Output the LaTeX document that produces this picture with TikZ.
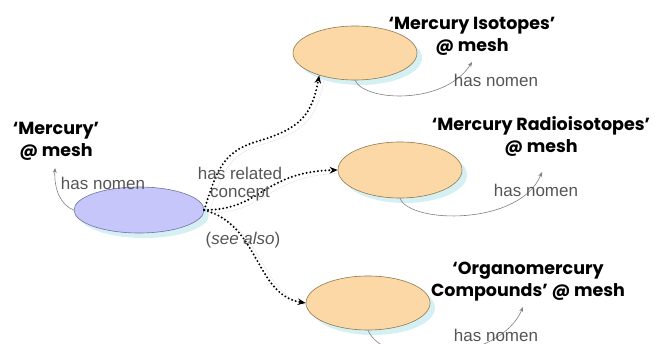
\documentclass[tikz,border=0pt]{standalone}
\usepackage{fontspec}
\setmainfont{Liberation Sans}
\newfontfamily\titlefont{Poppins}
\usetikzlibrary{shapes.geometric,arrows.meta}

\definecolor{lavender}{HTML}{C6C6FA}
\definecolor{lavenderline}{HTML}{7272A4}
\definecolor{peach}{HTML}{FCD8A6}
\definecolor{peachline}{HTML}{8E7A52}
\definecolor{shadowcyan}{HTML}{D4F0F2}
\definecolor{labelgray}{HTML}{555555}
\definecolor{ghostgray}{HTML}{E2E2E2}

\tikzset{
  concept/.style={ellipse, fill=#1, line width=0.6pt, minimum width=124pt, minimum height=54pt, inner sep=0pt,
    preaction={fill=shadowcyan, draw=none, transform canvas={shift={(5pt,-5pt)}}}},
  meshlabel/.style={font=\titlefont\bfseries\fontsize{17.5}{22}\selectfont, align=center, inner sep=0pt},
  rellabel/.style={font=\fontsize{17}{18}\selectfont, text=labelgray, align=center, inner sep=0pt},
  nomen/.style={draw=gray, line width=0.6pt, -{Stealth[length=5pt,width=4pt]}},
  seealso/.style={line width=2.2pt, dash pattern=on 0pt off 3.8pt, line cap=round,
    -{Stealth[length=8pt,width=6.5pt]},
    preaction={draw=ghostgray, -, transform canvas={shift={(5pt,-3pt)}}}}
}

\begin{document}
\begin{tikzpicture}[x=1pt,y=-1pt]
\useasboundingbox (0,0) rectangle (655,344);

% Pojecia
\node[concept=lavender, draw=lavenderline, minimum width=130pt, minimum height=46pt] (merc) at (139,210) {};
\node[concept=peach, draw=peachline] (iso) at (355,53) {};
\node[concept=peach, draw=peachline, minimum height=56pt] (radio) at (400,170) {};
\node[concept=peach, draw=peachline] (organo) at (368,303) {};

% Nazwy w MeSH
\node[meshlabel] (mercLbl) at (56,141) {‘Mercury’\\@ mesh};
\node[meshlabel] (isoLbl) at (472,36) {‘Mercury Isotopes’\\@ mesh};
\node[meshlabel] (radioLbl) at (541,136) {‘Mercury Radioisotopes’\\@ mesh};
\node[meshlabel] (organoLbl) at (528,282) {‘Organomercury\\Compounds’ @ mesh};

% Konce strzalek "has nomen"
\coordinate (mercTip) at (55,168);
\coordinate (isoTip) at (472,62);
\coordinate (radioTip) at (542,172);
\coordinate (organoTip) at (523,307);

% Relacje "has nomen"
\draw[nomen] (merc.west) .. controls (60,205) and (54,188) .. (mercTip);
\draw[nomen] (iso.south) .. controls (365,102) and (445,105) .. (isoTip);
\draw[nomen] (radio.south) .. controls (410,224) and (520,226) .. (radioTip);
\draw[nomen] (organo.south) .. controls (385,370) and (500,362) .. (organoTip);

\node[rellabel] (mercNom) at (103,183) {has nomen};
\node[rellabel] (isoNom) at (496,80) {has nomen};
\node[rellabel] (radioNom) at (536,190) {has nomen};
\node[rellabel] (organoNom) at (496,335) {has nomen};

% Relacje "see also"
\draw[seealso] (merc.east) .. controls (218,165) and (225,150) .. (262,140)
  .. controls (300,128) and (312,115) .. (iso.212);
\draw[seealso] (merc.east) .. controls (262,210) and (262,172) .. (radio.west);
\draw[seealso] (merc.east) .. controls (260,225) and (255,295) .. (organo.west);

\node[rellabel] (relLbl) at (240,184) {has related\\concept};
\node[rellabel] (seeLbl) at (243,240) {(\textit{see also})};
\end{tikzpicture}
\end{document}
